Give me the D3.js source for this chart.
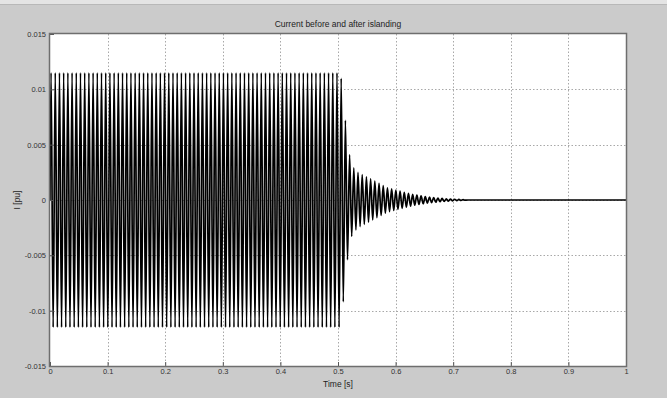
<!DOCTYPE html>
<html>
<head>
<meta charset="utf-8">
<script src="https://d3js.org/d3.v7.min.js"></script>
<style>
  html, body { margin: 0; padding: 0; background: #cbcbcb; }
  svg { display: block; font-family: "Liberation Sans", Arial, sans-serif; }
</style>
</head>
<body>
<svg width="667" height="398"></svg>
<script>
// values
const xTicks = [0, 0.1, 0.2, 0.3, 0.4, 0.5, 0.6, 0.7, 0.8, 0.9, 1];
const yTicks = [-0.015, -0.01, -0.005, 0, 0.005, 0.01, 0.015];
const yTickLabels = ['-0.015', '-0.01', '-0.005', '0', '0.005', '0.01', '0.015'];

const halfPeriod = 0.00365;        // spacing between peaks as seen (s)
const steadyAmp = 0.0115;          // peak current before islanding
const steadyEnd = 0.5036;          // time of last full peak
// peak amplitudes after islanding, one per half cycle
const decayAmps = [0.0110, 0.0092, 0.0072, 0.0054, 0.0041, 0.0033, 0.0029, 0.0027, 0.0025, 0.0024,
  0.0023, 0.0022, 0.0021, 0.0020, 0.0019, 0.0018, 0.0017, 0.0016, 0.0015, 0.0014,
  0.0013, 0.0012, 0.0011, 0.00105, 0.0010, 0.00095, 0.0009, 0.00085, 0.0008, 0.00075,
  0.0007, 0.00065, 0.0006, 0.00055, 0.0005, 0.00047, 0.00044, 0.0004, 0.00037, 0.00034,
  0.0003, 0.00028, 0.00026, 0.00024, 0.00022, 0.0002, 0.00018, 0.00016, 0.00014, 0.00012,
  0.00011, 0.0001, 0.00009, 0.00008, 0.00007, 0.00006, 0.00005, 0.00004, 0.00003, 0.00002, 0];
const endTime = 1;

// build peak list (alternating sign)
const pts = [[0, 0]];
let t = halfPeriod / 2, s = 1;
while (t <= steadyEnd) { pts.push([t, s * steadyAmp]); s = -s; t += halfPeriod; }
decayAmps.forEach(a => { pts.push([t, s * a]); s = -s; t += halfPeriod; });
pts.push([endTime, 0]);

const svg = d3.select('svg');
const mLeft = 50, mRight = 626, mTop = 34, mBottom = 366;

// toolbar strip remnant
svg.append('rect').attr('x', 0).attr('y', 0).attr('width', 667).attr('height', 4).attr('fill', '#e4e4e4');
svg.append('line').attr('x1', 0).attr('x2', 667).attr('y1', 4.5).attr('y2', 4.5).attr('stroke', '#b8b8b8');

const x = d3.scaleLinear().domain([0, 1]).range([mLeft, mRight]);
const y = d3.scaleLinear().domain([-0.015, 0.015]).range([mBottom, mTop]);

svg.append('rect')
  .attr('x', mLeft).attr('y', mTop)
  .attr('width', mRight - mLeft).attr('height', mBottom - mTop)
  .attr('fill', '#fff');

// grid
const grid = svg.append('g').attr('stroke', '#a8a8a8').attr('stroke-dasharray', '1.5,2').attr('stroke-width', 1);
xTicks.slice(1, -1).forEach(v => {
  grid.append('line').attr('x1', Math.round(x(v)) + 0.5).attr('x2', Math.round(x(v)) + 0.5)
    .attr('y1', mTop).attr('y2', mBottom);
});
yTicks.slice(1, -1).forEach(v => {
  grid.append('line').attr('y1', Math.round(y(v)) + 0.5).attr('y2', Math.round(y(v)) + 0.5)
    .attr('x1', mLeft).attr('x2', mRight);
});

// signal
const line = d3.line().x(d => x(d[0])).y(d => y(d[1])).curve(d3.curveMonotoneX);
svg.append('path')
  .datum(pts)
  .attr('d', line)
  .attr('fill', 'none')
  .attr('stroke', '#000')
  .attr('stroke-width', 1.7);

// axes (ticks inward, like MATLAB)
const xAxis = svg.append('g')
  .attr('transform', `translate(0,${mBottom})`)
  .call(d3.axisBottom(x).tickValues(xTicks).tickFormat(d3.format('')).tickSizeInner(-4).tickSizeOuter(0).tickPadding(3));
const yAxis = svg.append('g')
  .attr('transform', `translate(${mLeft},0)`)
  .call(d3.axisLeft(y).tickValues(yTicks).tickFormat((d, i) => yTickLabels[i]).tickSizeInner(-4).tickSizeOuter(0).tickPadding(4));
[xAxis, yAxis].forEach(g => {
  g.select('.domain').remove();
  g.selectAll('line').attr('stroke', '#555');
  g.selectAll('text').attr('fill', '#333').attr('font-size', 7.5).attr('font-family', '"Liberation Sans", Arial, sans-serif');
});

// box
svg.append('rect')
  .attr('x', mLeft - 0.5).attr('y', mTop - 0.5)
  .attr('width', mRight - mLeft + 1).attr('height', mBottom - mTop + 1)
  .attr('fill', 'none').attr('stroke', '#6e6e6e').attr('stroke-width', 1.5);

// labels
svg.append('text').attr('x', (mLeft + mRight) / 2).attr('y', 27)
  .attr('text-anchor', 'middle').attr('font-size', 8.5).attr('fill', '#222')
  .text('Current before and after islanding');
svg.append('text').attr('x', (mLeft + mRight) / 2).attr('y', 387)
  .attr('text-anchor', 'middle').attr('font-size', 8.5).attr('fill', '#222')
  .text('Time [s]');
svg.append('text').attr('transform', `translate(20,${(mTop + mBottom) / 2}) rotate(-90)`)
  .attr('text-anchor', 'middle').attr('font-size', 8.5).attr('fill', '#222')
  .text('I [pu]');
</script>
</body>
</html>
